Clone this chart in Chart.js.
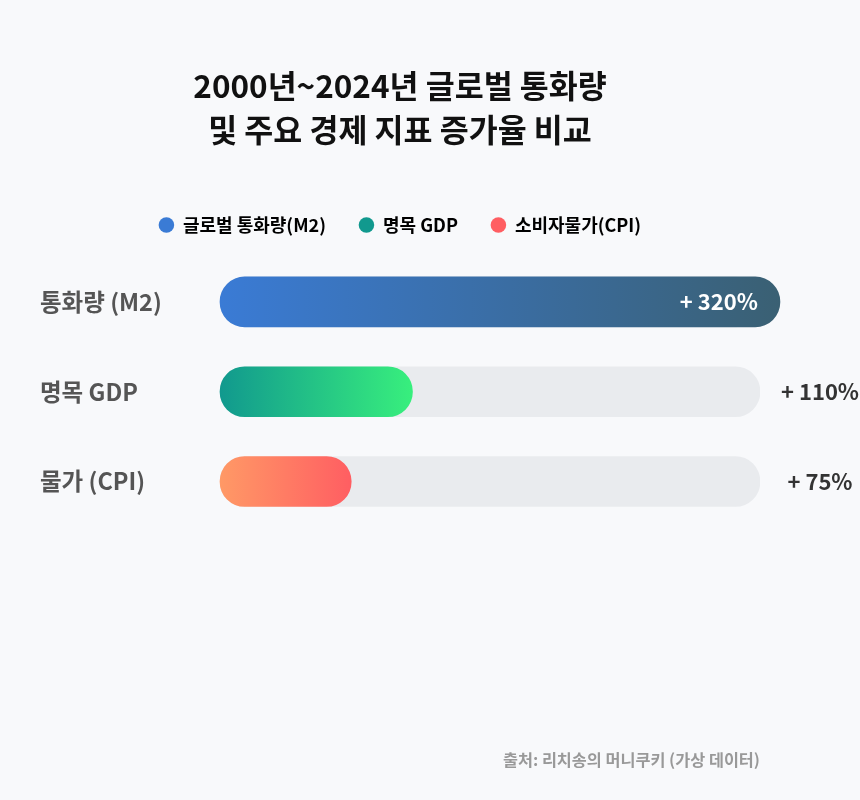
<!DOCTYPE html>
<html>
<head>
<meta charset="utf-8">
<script src="https://cdn.jsdelivr.net/npm/chart.js@4"></script>
<style>
  body { margin: 0; background: #f8f9fb; }
  canvas { display: block; }
</style>
</head>
<body>
<canvas id="growth-chart" width="860" height="800"></canvas>
<script>
// 2000~2024 growth, percent
var categories = ['통화량 (M2)', '명목 GDP', '물가 (CPI)'];
var legendNames = ['글로벌 통화량(M2)', '명목 GDP', '소비자물가(CPI)'];
var growth = [320, 110, 75];
var trackMax = 308.6;
var tracks = [trackMax, trackMax, trackMax];

var gradStart = ['#3a7bd5', '#11998e', '#ff9966'];
var gradEnd = ['#3a6073', '#38ef7d', '#ff5e62'];
var legendColors = ['#3a7bd5', '#11998e', '#ff5e62'];

var FONT = "'Noto Sans CJK KR', 'Noto Sans', sans-serif";

function barGradient(ctx) {
    var chart = ctx.chart;
    var area = chart.chartArea;
    var i = ctx.dataIndex;
    if (!area || ctx.type !== 'data' || !chart.scales.x) return gradStart[i];
    var end = chart.scales.x.getPixelForValue(growth[i]);
    var g = chart.ctx.createLinearGradient(area.left, 0, end, 0);
    g.addColorStop(0, gradStart[i]);
    g.addColorStop(1, gradEnd[i]);
    return g;
}

// value labels: inside the bar when it overflows the track, else to the right
var valueLabels = {
    id: 'valueLabels',
    afterDatasetsDraw: function (chart) {
        var ctx = chart.ctx;
        var meta = chart.getDatasetMeta(0);
        ctx.save();
        ctx.font = 'bold 22px ' + FONT;
        ctx.textBaseline = 'middle';
        meta.data.forEach(function (bar, i) {
            var text = '+ ' + growth[i] + '%';
            if (growth[i] > trackMax) {
                ctx.fillStyle = '#ffffff';
                ctx.textAlign = 'right';
                ctx.fillText(text, bar.x - 22, bar.y);
            } else {
                ctx.fillStyle = '#333333';
                ctx.textAlign = 'center';
                ctx.fillText(text, chart.chartArea.right + 60, bar.y);
            }
        });
        ctx.restore();
    }
};

var chart = new Chart(document.getElementById('growth-chart'), {
    type: 'bar',
    data: {
        labels: categories,
        datasets: [
            {
                label: '증가율',
                data: growth,
                backgroundColor: barGradient,
                borderRadius: 25,
                borderSkipped: false,
                barThickness: 50,
                grouped: false,
                clip: false,
                order: 0
            },
            {
                label: 'track',
                data: tracks,
                backgroundColor: '#e9ebee',
                borderRadius: 25,
                borderSkipped: false,
                barThickness: 50,
                grouped: false,
                order: 1
            }
        ]
    },
    options: {
        indexAxis: 'y',
        responsive: false,
        animation: false,
        layout: { padding: { top: 0, left: 40, right: 100, bottom: 30 } },
        scales: {
            x: {
                position: 'top',
                min: 0,
                max: trackMax,
                grid: { display: false },
                border: { display: false },
                ticks: { display: false },
                afterFit: function (s) { s.height = 13; }
            },
            y: {
                grid: { display: false },
                border: { display: false },
                ticks: {
                    crossAlign: 'far',
                    color: '#555555',
                    font: { family: FONT, size: 23.5, weight: 'bold' }
                },
                afterFit: function (s) { s.width = 180; }
            }
        },
        plugins: {
            title: {
                display: true,
                text: ['2000년~2024년 글로벌 통화량', '및 주요 경제 지표 증가율 비교'],
                color: '#111111',
                font: { family: FONT, size: 31.5, weight: 'bold', lineHeight: '44px' },
                padding: { top: 64, bottom: 31 }
            },
            subtitle: {
                display: true,
                position: 'bottom',
                align: 'end',
                text: '출처: 리치송의 머니쿠키 (가상 데이터)',
                color: '#999999',
                font: { family: FONT, size: 16.3, weight: 'bold' },
                padding: { top: 224, bottom: 0 }
            },
            legend: {
                onClick: null,
                labels: {
                    usePointStyle: true,
                    pointStyle: 'circle',
                    boxWidth: 15,
                    boxHeight: 11,
                    padding: 33,
                    color: '#444444',
                    font: { family: FONT, size: 18, weight: 'bold' },
                    generateLabels: function () {
                        return legendNames.map(function (name, i) {
                            return {
                                text: name,
                                fillStyle: legendColors[i],
                                strokeStyle: legendColors[i],
                                lineWidth: 0,
                                pointStyle: 'circle',
                                datasetIndex: 0,
                                index: i
                            };
                        });
                    }
                }
            },
            tooltip: { enabled: false }
        }
    },
    plugins: [valueLabels]
});
</script>
</body>
</html>
